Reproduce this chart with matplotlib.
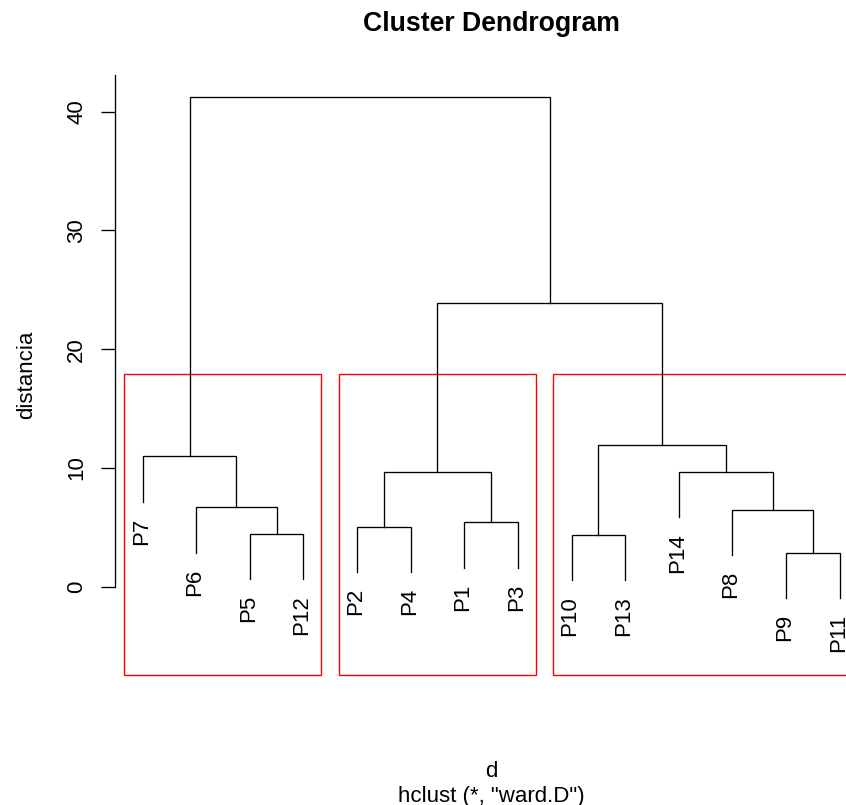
"""Cluster dendrogram (ward.D) with three highlighted groups, R style."""

import matplotlib.pyplot as plt
from matplotlib import transforms
from matplotlib.patches import Rectangle

plt.rcParams["font.family"] = ["Liberation Sans", "DejaVu Sans"]

# leaves in plotting order
leaf_order = ["P7", "P6", "P5", "P12", "P2", "P4", "P1", "P3",
              "P10", "P13", "P14", "P8", "P9", "P11"]

# merge steps: strings are leaves, ints refer to an earlier merge (1-based)
merges = [("P9", "P11"), ("P10", "P13"), ("P5", "P12"), ("P2", "P4"),
          ("P1", "P3"), ("P8", 1), ("P6", 3), ("P14", 6), (4, 5),
          ("P7", 7), (2, 8), (9, 11), (10, 12)]
heights = [2.86, 4.38, 4.46, 5.05, 5.42, 6.48, 6.69, 9.68, 9.69,
           11.0, 11.93, 23.89, 41.23]

y_ticks = [0, 10, 20, 30, 40]
n_clusters = 3
hang_frac = 0.1

LINE = "black"
W, H = 846, 805
fig = plt.figure(figsize=(W / 100, H / 100), dpi=100)
ax = fig.add_axes([114.8 / W, (H - 675) / H, (867.4 - 114.8) / W, (675 - 74.9) / H])
ylim = (-7.44, 43.1)
ax.set_xlim(0.48, len(leaf_order) + 0.52)
ax.set_ylim(*ylim)

x_pos = {name: i + 1 for i, name in enumerate(leaf_order)}
hang = hang_frac * (max(heights) - min(heights))
node_x = []
leaf_bottom = {}


def child_pos(ref, h):
    if isinstance(ref, str):
        leaf_bottom[ref] = h - hang
        return x_pos[ref], h - hang
    return node_x[ref - 1], heights[ref - 1]


for (a, b), h in zip(merges, heights):
    xa, ya = child_pos(a, h)
    xb, yb = child_pos(b, h)
    node_x.append((xa + xb) / 2)
    ax.plot([xa, xa, xb, xb], [ya, h, h, yb], color=LINE, lw=0.95,
            solid_joinstyle="miter")

for name in leaf_order:
    ax.annotate(name, (x_pos[name], leaf_bottom[name]), xytext=(-1, -11.5),
                textcoords="offset points", rotation=90, ha="center",
                va="top", fontsize=16)


# cut the tree into groups like rect.hclust
def leaves_of(ref):
    if isinstance(ref, str):
        return [ref]
    a, b = merges[ref - 1]
    return leaves_of(a) + leaves_of(b)


groups = [len(merges)]
while len(groups) < n_clusters:
    top = max(g for g in groups if isinstance(g, int))
    groups.remove(top)
    groups.extend(merges[top - 1])

rect_top = (heights[-(n_clusters - 1)] + heights[-n_clusters]) / 2
for g in groups:
    xs = [x_pos[p] for p in leaves_of(g)]
    left, right = min(xs) - 0.34, max(xs) + 0.33
    ax.add_patch(Rectangle((left, ylim[0]), right - left, rect_top - ylim[0],
                           fill=False, edgecolor="red", lw=1.0, clip_on=False))

for side in ("top", "right", "bottom"):
    ax.spines[side].set_visible(False)
ax.spines["left"].set_bounds(0, ylim[1])
ax.spines["left"].set_linewidth(0.95)
ax.set_xticks([])
ax.set_yticks(y_ticks)
ax.tick_params(axis="y", length=10, width=0.95, pad=9.8, labelsize=16)
plt.setp(ax.get_yticklabels(), rotation=90, va="center")

ax.set_ylabel("distancia", fontsize=16)
ax.yaxis.set_label_coords(-0.1031, 0.5)

blend = transforms.blended_transform_factory(ax.transAxes, fig.transFigure)
fig.text(0.5, 1 - 30.7 / H, "Cluster Dendrogram", transform=blend,
         ha="center", va="baseline", fontsize=19.2, fontweight="bold")
fig.text(0.5, 28 / H, "d", transform=blend, ha="center", va="baseline",
         fontsize=16)
fig.text(0.5, 3 / H, 'hclust (*, "ward.D")', transform=blend, ha="center",
         va="baseline", fontsize=16)

fig.savefig("out.png", dpi=100)
